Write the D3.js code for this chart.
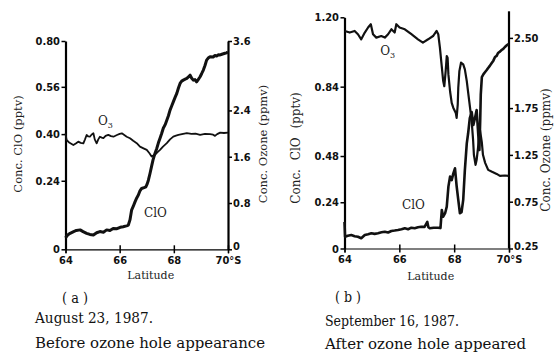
<!DOCTYPE html>
<html><head><meta charset="utf-8">
<script src="https://cdn.jsdelivr.net/npm/d3@7"></script>
<style>body{margin:0;background:#fff}svg{display:block}</style>
</head><body>
<script>
// ---------------- DATA ----------------
const latTicks = [64, 66, 68, 70];

// Panel (a): August 23, 1987
const aLeftTicks = [0, 0.24, 0.40, 0.56, 0.80];      // ClO (pptv)
const aRightTicks = [0, 0.8, 1.6, 2.4, 3.6];          // Ozone (ppmv)
const aClO = [
  [64.00,0.040],[64.08,0.050],[64.17,0.056],[64.30,0.062],[64.40,0.066],[64.54,0.068],[64.65,0.062],[64.78,0.056],[64.90,0.052],[65.03,0.050],
  [65.15,0.058],[65.27,0.062],[65.40,0.060],[65.52,0.068],[65.64,0.066],[65.76,0.073],[65.90,0.072],[66.02,0.077],[66.13,0.079],[66.25,0.082],
  [66.32,0.085],[66.38,0.103],[66.44,0.137],[66.50,0.150],[66.57,0.167],[66.63,0.180],[66.69,0.190],[66.75,0.205],[66.81,0.213],[66.90,0.216],
  [66.97,0.219],[67.02,0.230],[67.06,0.242],[67.12,0.265],[67.18,0.290],[67.23,0.311],[67.30,0.333],[67.37,0.351],[67.43,0.370],[67.49,0.386],
  [67.55,0.402],[67.61,0.420],[67.68,0.432],[67.74,0.447],[67.80,0.462],[67.86,0.481],[67.92,0.495],[67.98,0.509],[68.05,0.525],[68.11,0.538],
  [68.17,0.556],[68.23,0.578],[68.29,0.590],[68.35,0.595],[68.42,0.600],[68.48,0.604],[68.54,0.612],[68.60,0.621],[68.66,0.605],[68.72,0.595],
  [68.78,0.598],[68.84,0.586],[68.90,0.598],[68.97,0.613],[69.03,0.630],[69.09,0.648],[69.15,0.672],[69.21,0.700],[69.28,0.712],[69.34,0.718],
  [69.45,0.716],[69.52,0.724],[69.58,0.721],[69.65,0.728],[69.71,0.727],[69.80,0.732],[69.89,0.736],[69.95,0.738],[70.00,0.743]
];
const aO3 = [
  [64.00,2.005],[64.04,1.889],[64.15,1.840],[64.29,1.803],[64.38,1.830],[64.47,1.860],[64.56,1.840],[64.66,1.832],[64.72,1.900],[64.78,1.975],
  [64.84,1.950],[64.90,1.946],[64.96,1.980],[65.03,2.005],[65.08,1.900],[65.15,1.832],[65.21,1.900],[65.27,1.946],[65.34,1.930],[65.40,1.920],
  [65.48,1.960],[65.58,1.978],[65.68,1.955],[65.77,1.946],[65.90,1.975],[66.00,1.995],[66.08,2.005],[66.17,1.975],[66.26,1.946],[66.38,1.920],
  [66.50,1.875],[66.63,1.834],[66.75,1.775],[66.88,1.745],[67.00,1.718],[67.10,1.660],[67.18,1.602],[67.24,1.620],[67.30,1.632],[67.40,1.680],
  [67.49,1.718],[67.60,1.775],[67.74,1.834],[67.86,1.900],[67.98,1.948],[68.08,1.965],[68.17,1.978],[68.30,1.990],[68.48,2.007],[68.65,1.995],
  [68.80,2.000],[68.97,1.978],[69.15,1.995],[69.34,1.990],[69.45,1.980],[69.52,1.960],[69.60,1.990],[69.71,2.017],[69.85,2.010],[70.00,2.017]
];

// Panel (b): September 16, 1987
const bLeftTicks = [0, 0.24, 0.48, 0.84, 1.20];       // ClO (pptv)
const bRightTicks = [0.25, 0.75, 1.25, 1.75, 2.50];   // Ozone (ppmv)
const bClO = [
  [64.00,0.138],[64.02,0.061],[64.12,0.066],[64.25,0.070],[64.37,0.064],[64.49,0.061],[64.61,0.053],[64.74,0.070],[64.86,0.074],[64.98,0.079],
  [65.10,0.076],[65.22,0.079],[65.35,0.084],[65.47,0.087],[65.59,0.083],[65.71,0.091],[65.83,0.093],[65.95,0.096],[66.08,0.100],[66.20,0.105],
  [66.32,0.100],[66.44,0.108],[66.56,0.105],[66.68,0.110],[66.80,0.113],[66.92,0.112],[67.02,0.138],[67.06,0.110],[67.11,0.105],[67.25,0.108],
  [67.41,0.108],[67.50,0.106],[67.55,0.200],[67.60,0.165],[67.67,0.183],[67.73,0.217],[67.79,0.321],[67.85,0.373],[67.91,0.355],[67.97,0.390],
  [68.03,0.416],[68.09,0.324],[68.15,0.252],[68.21,0.183],[68.27,0.189],[68.33,0.252],[68.39,0.407],[68.46,0.546],[68.51,0.598],[68.57,0.677],
  [68.64,0.708],[68.70,0.641],[68.76,0.677],[68.82,0.719],[68.88,0.589],[68.92,0.511],[68.95,0.667],[68.97,0.797],[69.01,0.890],[69.07,0.905],
  [69.13,0.916],[69.18,0.925],[69.24,0.937],[69.30,0.948],[69.37,0.963],[69.43,0.975],[69.49,0.994],[69.55,1.000],[69.60,1.015],[69.67,1.022],
  [69.73,1.030],[69.79,1.036],[69.85,1.046],[69.93,1.056],[69.98,1.061]
];
const bO3 = [
  [64.01,2.574],[64.19,2.557],[64.37,2.574],[64.49,2.539],[64.61,2.485],[64.74,2.557],[64.86,2.611],[64.96,2.646],[65.04,2.539],[65.16,2.503],
  [65.34,2.520],[65.47,2.503],[65.59,2.539],[65.71,2.592],[65.83,2.557],[65.89,2.646],[66.01,2.611],[66.20,2.592],[66.44,2.539],[66.68,2.485],
  [66.86,2.450],[67.05,2.485],[67.23,2.520],[67.36,2.574],[67.42,2.539],[67.48,2.396],[67.54,2.217],[67.60,2.038],[67.64,1.984],[67.69,2.145],
  [67.73,2.306],[67.76,2.289],[67.79,2.110],[67.85,1.930],[67.91,1.806],[67.97,1.752],[68.06,1.698],[68.09,1.645],[68.13,1.788],[68.15,1.967],
  [68.19,2.145],[68.25,2.235],[68.33,2.217],[68.39,2.163],[68.46,2.038],[68.52,1.895],[68.58,1.752],[68.64,1.605],[68.69,1.412],[68.72,1.251],
  [68.78,1.144],[68.82,1.197],[68.87,1.326],[68.91,1.455],[68.94,1.519],[69.01,1.380],[69.05,1.251],[69.13,1.165],[69.24,1.090],[69.38,1.069],
  [69.55,1.047],[69.67,1.026],[69.85,1.030],[69.98,1.026]
];

// ---------------- LAYOUT ----------------
const W = 559, H = 354;
const svg = d3.select("body").append("svg").attr("width", W).attr("height", H);
const tickFont = "'DejaVu Sans Condensed','Liberation Sans Narrow','DejaVu Sans',sans-serif";
const serif = "'DejaVu Serif','Liberation Serif',serif";

function styleTicks(sel) {
  sel.selectAll("text").attr("font-family", tickFont).attr("font-weight", "bold")
    .attr("font-stretch", "condensed").attr("font-size", 11).attr("fill", "#111");
}

function panel(cfg) {
  const g = svg.append("g");
  const x = d3.scaleLinear().domain([64, 70]).range([cfg.x0, cfg.x1]);
  const h = cfg.yb - cfg.yt;
  const yL = d3.scaleLinear().domain(cfg.leftDomain).range(cfg.leftFrac.map(f => cfg.yb - f * h));
  const yR = d3.scaleLinear().domain(cfg.rightDomain).range([cfg.yb, cfg.yt]);

  // bottom axis
  const ax = g.append("g").attr("transform", `translate(0,${cfg.yb})`)
    .call(d3.axisBottom(x).tickValues(latTicks).tickSize(4).tickPadding(2)
      .tickFormat(d => d === 70 ? "70°S" : d));
  ax.select(".domain").attr("stroke-width", 1.2);
  ax.selectAll(".tick line").attr("y1", -4).attr("stroke-width", 1.5);
  styleTicks(ax);
  ax.selectAll(".tick text").attr("dy", "0.78em");

  // left axis
  const al = g.append("g").attr("transform", `translate(${cfg.x0},0)`)
    .call(d3.axisLeft(yL).tickValues(cfg.leftTicks).tickSize(4).tickPadding(1.5)
      .tickSizeOuter(0).tickFormat(d => d === 0 ? "0" : d3.format(".2f")(d)));
  al.select(".domain").attr("stroke-width", 2.2);
  al.selectAll(".tick line").attr("stroke-width", 1.5);
  styleTicks(al);

  // right axis
  const ar = g.append("g").attr("transform", `translate(${cfg.x1},0)`)
    .call(d3.axisRight(yR).tickValues(cfg.rightTicks).tickSize(4).tickPadding(1)
      .tickSizeOuter(0).tickFormat(cfg.rightFmt));
  ar.select(".domain").attr("stroke-width", 2.2);
  if (cfg.rightExtend) ar.select(".domain").attr("d", `M0,${cfg.yb}V${cfg.yt - cfg.rightExtend}`);
  ar.selectAll(".tick line").attr("stroke-width", 1.5);
  styleTicks(ar);
  ar.selectAll(".tick text").filter(d => d === cfg.rightDomain[0]).attr("dy", "0.05em");

  // lines
  const lineL = d3.line().x(d => x(d[0])).y(d => yL(d[1]));
  const lineR = d3.line().x(d => x(d[0])).y(d => yR(d[1]));
  g.append("path").datum(cfg.o3).attr("d", lineR).attr("fill", "none")
    .attr("stroke", "#111").attr("stroke-width", cfg.o3W).attr("stroke-linejoin", "round");
  g.append("path").datum(cfg.clo).attr("d", lineL).attr("fill", "none")
    .attr("stroke", "#111").attr("stroke-width", cfg.cloW).attr("stroke-linejoin", "round");

  // axis titles
  g.append("text").attr("transform", `translate(${cfg.lx},${cfg.ly}) rotate(-90)`)
    .attr("text-anchor", "middle").attr("font-family", serif).attr("font-size", cfg.labSize)
    .attr("word-spacing", cfg.wordSp).attr("fill", "#222").text("Conc. ClO (pptv)");
  g.append("text").attr("transform", `translate(${cfg.rx},${cfg.ry}) rotate(-90)`)
    .attr("text-anchor", "middle").attr("font-family", serif).attr("font-size", cfg.labSize)
    .attr("fill", "#222").text("Conc. Ozone (ppmv)");
  g.append("text").attr("x", (cfg.x0 + cfg.x1) / 2 + 4).attr("y", cfg.latY)
    .attr("text-anchor", "middle").attr("font-family", serif).attr("font-size", 11)
    .attr("fill", "#222").text("Latitude");

  // series annotations
  const o3t = g.append("text").attr("x", x(cfg.o3Lab[0])).attr("y", cfg.o3Lab[1])
    .attr("font-family", serif).attr("font-size", 12).attr("fill", "#222");
  o3t.append("tspan").text("O");
  o3t.append("tspan").attr("font-size", 8).attr("dy", 3).text("3");
  g.append("text").attr("x", x(cfg.cloLab[0])).attr("y", cfg.cloLab[1])
    .attr("font-family", serif).attr("font-size", 12).attr("fill", "#222").text("ClO");

  // captions: [x, baseline, text, target width]
  cfg.captions.forEach(c => {
    g.append("text").attr("x", c[0]).attr("y", c[1]).attr("font-family", serif)
      .attr("font-size", 14.5).attr("fill", "#111").attr("xml:space", "preserve")
      .attr("textLength", c[3]).attr("lengthAdjust", "spacingAndGlyphs").text(c[2]);
  });
}

panel({
  x0: 65.5, x1: 228, yt: 41, yb: 249.3,
  leftDomain: aLeftTicks, leftFrac: [0, 0.329, 0.553, 0.780, 1],
  rightDomain: [0, 3.6], leftTicks: aLeftTicks, rightTicks: aRightTicks,
  rightFmt: d => d === 0 ? "0" : d3.format(".1f")(d),
  clo: aClO, o3: aO3, cloW: 3, o3W: 1.8,
  lx: 22, ly: 144, rx: 267, ry: 144, labSize: 11.5, wordSp: 0,
  latY: 279, o3Lab: [65.2, 125], cloLab: [66.9, 217],
  captions: [[62, 303, "( a )", 26], [35, 323, "August 23, 1987.", 118], [35, 348, "Before ozone hole appearance", 230]]
});

panel({
  x0: 344.5, x1: 509, yt: 17.3, yb: 248.5,
  leftDomain: [0, 1.2], leftFrac: [0, 1],
  rightDomain: [0.25, 2.72], leftTicks: bLeftTicks, rightTicks: bRightTicks,
  rightFmt: d => d3.format(".2f")(d), rightExtend: 6,
  clo: bClO, o3: bO3, cloW: 2.6, o3W: 2.2,
  lx: 300, ly: 148, rx: 550, ry: 150, labSize: 12, wordSp: 5,
  latY: 280, o3Lab: [65.3, 55], cloLab: [66.1, 209],
  captions: [[335, 302, "( b )", 26], [325, 326, "September 16, 1987.", 134], [325, 349, "After ozone hole appeared", 201]]
});
</script>
</body></html>
